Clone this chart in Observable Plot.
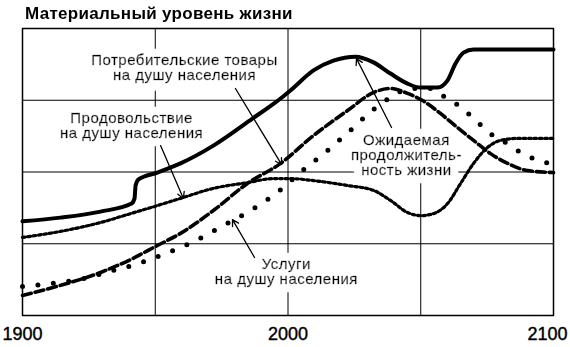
<!DOCTYPE html>
<html><head><meta charset="utf-8">
<script src="https://cdn.jsdelivr.net/npm/d3@7"></script>
<script src="https://cdn.jsdelivr.net/npm/@observablehq/plot@0.6"></script>
<style>
body{margin:0;background:#fff;}
#wrap{position:relative;width:570px;height:347px;}
#title{position:absolute;left:25px;top:3px;font:bold 17px "Liberation Sans",Arial,sans-serif;letter-spacing:0.3px;line-height:22px;white-space:nowrap;color:#000;}
svg g[aria-label="text"]{filter:url(#halo);letter-spacing:0.5px;}
svg g[aria-label="x-axis tick label"] text{stroke:#000;stroke-width:0.4px;}
</style></head><body>
<svg width="0" height="0" style="position:absolute">
  <defs>
    <filter id="halo" x="-20%" y="-30%" width="140%" height="160%">
      <feMorphology in="SourceAlpha" operator="dilate" radius="8" result="d"/>
      <feFlood flood-color="white" result="w"/>
      <feComposite in="w" in2="d" operator="in" result="h"/>
      <feMerge><feMergeNode in="h"/><feMergeNode in="SourceGraphic"/></feMerge>
    </filter>
  </defs>
</svg>
<div id="wrap"><div id="title">Материальный уровень жизни</div></div>
<script>
// Ожидаемая продолжительность жизни (solid)
const lifeYears = [1900, 1914.3, 1929.4, 1941.1, 1942.2, 1942.6, 1943.7, 1950.8, 1959.5, 1971.9, 1986.6, 1997.2, 2000.9, 2009.6, 2017.1, 2025.4, 2032.2, 2038.6, 2045.0, 2049.9, 2056.3, 2060.1, 2063.1, 2066.1, 2069.9, 2100];
const lifeValues = [32.8, 34.1, 36.2, 39.0, 40.8, 45.3, 47.4, 49.8, 53.0, 59.2, 68.6, 75.6, 78.4, 85.4, 88.8, 90.2, 88.2, 84.3, 80.8, 79.4, 79.4, 81.9, 87.8, 91.6, 92.7, 92.7];
// Потребительские товары на душу населения (dashed)
const goodsYears = [1900, 1914.3, 1929.4, 1940.7, 1950.8, 1959.5, 1971.9, 1984.7, 1997.2, 2009.6, 2022.4, 2032.2, 2038.6, 2045.0, 2050.7, 2057.4, 2063.8, 2069.9, 2076.3, 2082.7, 2090.2, 2100];
const goodsValues = [7.0, 10.5, 15.0, 19.5, 24.4, 28.6, 36.6, 46.0, 53.0, 62.7, 71.4, 77.7, 79.1, 77.4, 74.9, 70.4, 65.5, 61.0, 56.4, 53.0, 50.5, 49.8];
// Продовольствие на душу населения (fine dots)
const foodYears = [1900, 1914.3, 1929.4, 1940.7, 1950.8, 1959.5, 1971.9, 1984.7, 1994.5, 2000.9, 2009.6, 2022.4, 2032.2, 2038.6, 2045.0, 2049.9, 2054.8, 2060.1, 2065.0, 2069.9, 2075.1, 2080.0, 2086.4, 2100];
const foodValues = [27.2, 29.3, 32.4, 35.5, 38.3, 40.8, 44.3, 46.3, 47.7, 47.7, 47.0, 45.3, 43.6, 40.1, 35.9, 34.8, 35.5, 39.0, 46.0, 53.0, 58.5, 61.0, 61.7, 61.7];
// Услуги на душу населения (big dots)
const servYears = [1900, 1907.5, 1924.5, 1931.3, 1942.6, 1953.9, 1965.2, 1975.7, 1985.9, 1996.0, 2005.5, 2014.9, 2023.5, 2032.2, 2037.5, 2046.1, 2053.7, 2059.3, 2064.2, 2068.7, 2073.6, 2078.2, 2082.7, 2088.3, 2093.2, 2100];
const servValues = [10.1, 10.8, 13.2, 15.0, 17.8, 21.6, 26.1, 31.4, 36.6, 42.9, 50.5, 57.5, 64.5, 71.8, 75.3, 79.1, 79.1, 76.0, 73.2, 69.7, 65.5, 62.0, 59.9, 56.4, 54.4, 52.6];

const gridYears = [1950, 2000, 2050];
const gridLevels = [25, 50, 75];
const tickYears = [1900, 2000];
const lastTickYear = [2100];

const labelTexts = ["Потребительские товары\nна душу населения", "Продовольствие\nна душу населения", "Ожидаемая\nпродолжитель-\nность жизни", "Услуги\nна душу населения"];
const labelYears = [1961.0, 1941.1, 2044.6, 1999.4];
const labelValues = [81.9, 62.0, 48.8, 11.1];

const arrowFromYears = [1980.2, 1952.0, 2039.0, 1987.4];
const arrowFromValues = [79.1, 59.2, 65.5, 20.2];
const arrowToYears = [1997.6, 1960.6, 2025.8, 1979.1];
const arrowToValues = [52.6, 40.8, 89.5, 33.4];

const toRows = (ys, vs) => ys.map((y, i) => ({year: y, value: vs[i]}));
const life = toRows(lifeYears, lifeValues);
const goods = toRows(goodsYears, goodsValues);
const food = toRows(foodYears, foodValues);
const serv = toRows(servYears, servValues);
const labels = labelTexts.map((t, i) => ({text: t, year: labelYears[i], value: labelValues[i]}));
const arrows = arrowFromYears.map((x, i) => ({x1: x, y1: arrowFromValues[i], x2: arrowToYears[i], y2: arrowToValues[i]}));

const font = '"Liberation Sans", Arial, sans-serif';
const plot = Plot.plot({
  width: 570, height: 347,
  marginTop: 28, marginLeft: 22, marginRight: 17, marginBottom: 32,
  x: {domain: [1900, 2100], label: null},
  y: {domain: [0, 100], axis: null, label: null},
  style: {fontFamily: font, background: "white", color: "black"},
  marks: [
    Plot.ruleY(gridLevels, {stroke: "black", strokeWidth: 1}),
    Plot.ruleX(gridYears, {stroke: "black", strokeWidth: 1}),
    Plot.text(labels, {x: "year", y: "value", text: "text", fontSize: 15, lineHeight: 1, lineAnchor: "bottom", fill: "black", stroke: "black", strokeWidth: 0.45}),
    Plot.line(food, {x: "year", y: "value", curve: "monotone-x", stroke: "black", strokeWidth: 3.2, strokeDasharray: "2.6 2.8"}),
    Plot.line(serv, {x: "year", y: "value", curve: "monotone-x", stroke: "black", strokeWidth: 5, strokeDasharray: "0 15.5", strokeLinecap: "round"}),
    Plot.line(goods, {x: "year", y: "value", curve: "monotone-x", stroke: "black", strokeWidth: 3.6, strokeDasharray: "9 4"}),
    Plot.line(life, {x: "year", y: "value", curve: "monotone-x", stroke: "black", strokeWidth: 4}),
    Plot.arrow(arrows, {x1: "x1", y1: "y1", x2: "x2", y2: "y2", stroke: "black", strokeWidth: 1.3, headLength: 8}),
    Plot.frame({stroke: "black", strokeWidth: 1.5}),
    Plot.axisX(tickYears, {tickSize: 0, tickPadding: 12, fontSize: 18, tickFormat: d => String(d), label: null}),
    Plot.axisX(lastTickYear, {tickSize: 0, tickPadding: 12, fontSize: 18, dx: -6, tickFormat: d => String(d), label: null})
  ]
});
document.getElementById("wrap").prepend(plot);
</script>
</body></html>
